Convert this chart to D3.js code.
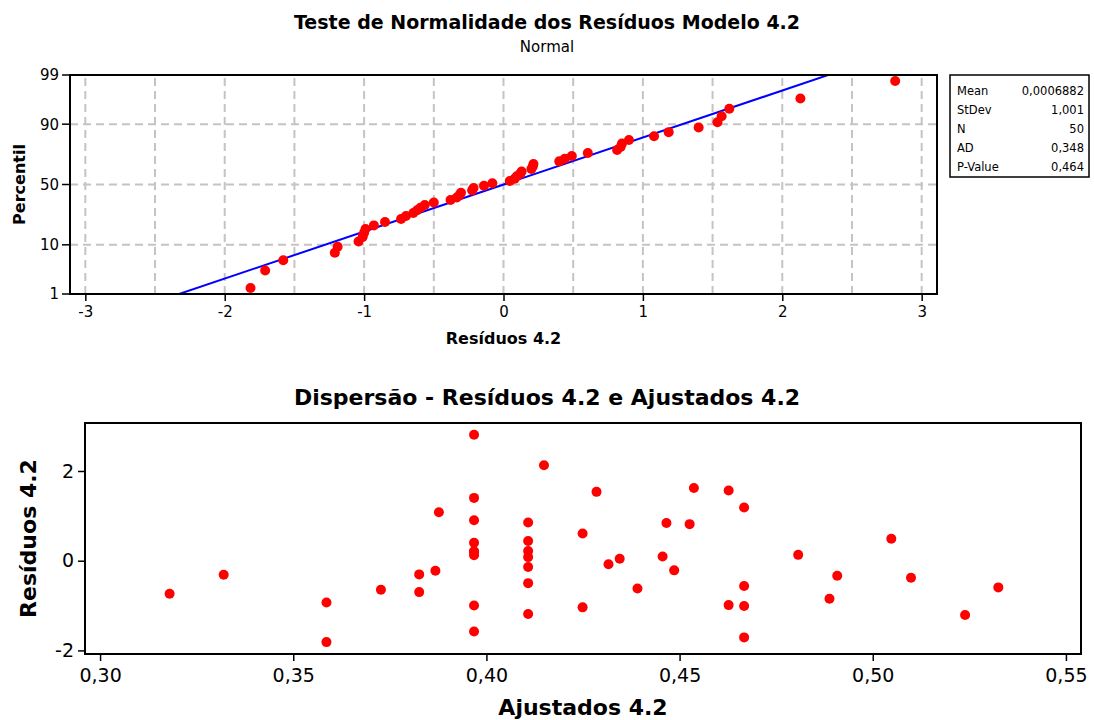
<!DOCTYPE html>
<html lang="pt">
<head>
<meta charset="UTF-8">
<script src="https://d3js.org/d3.v7.min.js"></script>
<style>
  body {margin: 0; background: #fff;}
  svg {display: block; font-family: "DejaVu Sans", sans-serif;}
  .grid line {stroke: #c4c4c4; stroke-width: 2; stroke-dasharray: 8,5;}
  .frame {fill: none; stroke: #000; stroke-width: 2;}
  .axis .tick line {stroke: #000; stroke-width: 1.5;}
  .axis path.domain {display: none;}
</style>
</head>
<body>
<svg id="chart" width="1094" height="720"></svg>
<script>
// valores ajustados e residuos (modelo 4.2)
const fitted = [0.318, 0.332, 0.3586, 0.3586, 0.3727, 0.3826, 0.3826, 0.3868, 0.3877,
  0.3968, 0.3968, 0.3968, 0.3968, 0.3968, 0.3968, 0.3968, 0.3968, 0.3968,
  0.4108, 0.4108, 0.4108, 0.4108, 0.4108, 0.4108, 0.4108, 0.4149,
  0.4285, 0.4249, 0.4249, 0.4316, 0.4345, 0.4391, 0.4456, 0.4466, 0.4486,
  0.4526, 0.4537, 0.4627, 0.4627, 0.4667, 0.4667, 0.4667, 0.4667,
  0.4807, 0.4888, 0.4908, 0.5048, 0.5099, 0.5239, 0.5325];
const residuals = [-0.735, -0.315, -0.93, -1.815, -0.647, -0.305, -0.70, -0.225, 1.08,
  2.81, 1.40, 0.90, 0.40, 0.21, 0.20, 0.12, -1.00, -1.58,
  0.85, 0.44, 0.215, 0.08, -0.14, -0.50, -1.19, 2.13,
  1.535, 0.605, -1.04, -0.08, 0.045, -0.62, 0.095, 0.84, -0.215,
  0.815, 1.62, 1.565, -0.99, 1.185, -0.565, -1.01, -1.71,
  0.13, -0.85, -0.335, 0.49, -0.38, -1.21, -0.595];

const fitMean = 0.0006882, fitSd = 1.001;
const statLabels = ["Mean", "StDev", "N", "AD", "P-Value"];
const statValues = ["0,0006882", "1,001", "50", "0,348", "0,464"];

const pctTicks = [1, 10, 50, 90, 99];
const pctGrid = [10, 50, 90];
const resTicks = [-3, -2, -1, 0, 1, 2, 3];
const resGrid = [-3, -2.5, -2, -1.5, -1, -0.5, 0, 0.5, 1, 1.5, 2, 2.5, 3];
const fitTicks = [0.30, 0.35, 0.40, 0.45, 0.50, 0.55];
const resTicks2 = [-2, 0, 2];

// inversa da normal padrao (Acklam)
function qnorm(p) {
  const a = [-39.69683028665376, 220.9460984245205, -275.9285104469687, 138.3577518672690, -30.66479806614716, 2.506628277459239];
  const b = [-54.47609879822406, 161.5858368580409, -155.6989798598866, 66.80131188771972, -13.28068155288572];
  const c = [-0.007784894002430293, -0.3223964580411365, -2.400758277161838, -2.549732539343734, 4.374664141464968, 2.938163982698783];
  const d = [0.007784695709041462, 0.3224671290700398, 2.445134137142996, 3.754408661907416];
  const pl = 0.02425;
  let q, r;
  if (p < pl) {
    q = Math.sqrt(-2 * Math.log(p));
    return (((((c[0]*q+c[1])*q+c[2])*q+c[3])*q+c[4])*q+c[5]) / ((((d[0]*q+d[1])*q+d[2])*q+d[3])*q+1);
  } else if (p <= 1 - pl) {
    q = p - 0.5; r = q * q;
    return (((((a[0]*r+a[1])*r+a[2])*r+a[3])*r+a[4])*r+a[5])*q / (((((b[0]*r+b[1])*r+b[2])*r+b[3])*r+b[4])*r+1);
  }
  q = Math.sqrt(-2 * Math.log(1 - p));
  return -(((((c[0]*q+c[1])*q+c[2])*q+c[3])*q+c[4])*q+c[5]) / ((((d[0]*q+d[1])*q+d[2])*q+d[3])*q+1);
}

const comma = f => v => d3.format(f)(v).replace(".", ",").replace("\u2212", "-");
const svg = d3.select("#chart");

// ---------- grafico de probabilidade normal ----------
const pp = {left: 70, right: 937, top: 75, bottom: 294};
const x1 = d3.scaleLinear().domain([-3.11, 3.11]).range([pp.left, pp.right]);
const z1 = d3.scaleLinear().domain([qnorm(0.01), qnorm(0.99)]).range([pp.bottom, pp.top]);
const y1 = pct => z1(qnorm(pct / 100));

svg.append("text").attr("x", 547).attr("y", 29).attr("text-anchor", "middle")
  .attr("font-size", 19).attr("font-weight", "bold")
  .text("Teste de Normalidade dos Resíduos Modelo 4.2");
svg.append("text").attr("x", 547).attr("y", 52).attr("text-anchor", "middle")
  .attr("font-size", 15).text("Normal");

const g1 = svg.append("g");
g1.append("g").attr("class", "grid").selectAll("line").data(resGrid).join("line")
  .attr("x1", d => x1(d)).attr("x2", d => x1(d))
  .attr("y1", pp.top + 3).attr("y2", pp.bottom);
g1.append("g").attr("class", "grid").selectAll("line").data(pctGrid).join("line")
  .attr("x1", pp.left).attr("x2", pp.right)
  .attr("y1", d => y1(d)).attr("y2", d => y1(d));

svg.append("clipPath").attr("id", "clipTop").append("rect")
  .attr("x", pp.left).attr("y", pp.top)
  .attr("width", pp.right - pp.left).attr("height", pp.bottom - pp.top);

const lineP = [0.005, 0.995];
g1.append("path").attr("clip-path", "url(#clipTop)")
  .attr("fill", "none").attr("stroke", "#0000ff").attr("stroke-width", 2)
  .attr("d", d3.line().x(p => x1(fitMean + fitSd * qnorm(p))).y(p => z1(qnorm(p)))(lineP));

const sorted = residuals.slice().sort(d3.ascending);
const n = sorted.length;
g1.append("g").selectAll("circle").data(sorted).join("circle")
  .attr("cx", d => x1(d))
  .attr("cy", (d, i) => z1(qnorm((i + 1 - 0.3) / (n + 0.4))))
  .attr("r", 5).attr("fill", "#ff0000");

g1.append("rect").attr("class", "frame").attr("x", pp.left).attr("y", pp.top)
  .attr("width", pp.right - pp.left).attr("height", pp.bottom - pp.top);

g1.append("g").attr("class", "axis").attr("transform", `translate(0,${pp.bottom})`)
  .call(d3.axisBottom(x1).tickValues(resTicks).tickSize(7).tickPadding(5).tickFormat(d => String(d)))
  .call(g => g.selectAll("text").attr("font-size", 15).attr("font-family", "DejaVu Sans").attr("fill", "#000"));

const yAxis1 = g1.append("g").attr("class", "axis").attr("transform", `translate(${pp.left},0)`);
yAxis1.selectAll("g").data(pctTicks).join("g")
  .attr("class", "tick")
  .attr("transform", d => `translate(0,${y1(d)})`)
  .call(g => g.append("line").attr("x1", -8).attr("x2", 0))
  .call(g => g.append("text").attr("x", -11).attr("dy", "0.36em")
    .attr("text-anchor", "end").attr("font-size", 15).text(d => d));

svg.append("text").attr("x", (pp.left + pp.right) / 2).attr("y", 344)
  .attr("text-anchor", "middle").attr("font-size", 16).attr("font-weight", "bold")
  .text("Resíduos 4.2");
svg.append("text").attr("transform", `translate(25,${(pp.top + pp.bottom) / 2}) rotate(-90)`)
  .attr("text-anchor", "middle").attr("font-size", 16).attr("font-weight", "bold")
  .text("Percentil");

// caixa de estatisticas
const box = svg.append("g");
box.append("rect").attr("x", 950).attr("y", 75).attr("width", 139).attr("height", 102)
  .attr("fill", "#fff").attr("stroke", "#000").attr("stroke-width", 1.5);
statLabels.forEach((s, i) => {
  box.append("text").attr("x", 957).attr("y", 90.5 + i * 19).attr("dy", "0.36em")
    .attr("font-size", 11.5).text(s);
  box.append("text").attr("x", 1084).attr("y", 90.5 + i * 19).attr("dy", "0.36em")
    .attr("text-anchor", "end").attr("font-size", 11.5).text(statValues[i]);
});

// ---------- dispersao ----------
const sc = {left: 85, right: 1081, top: 423, bottom: 654};
const x2 = d3.scaleLinear().domain([0.2961, 0.5539]).range([sc.left, sc.right]);
const y2 = d3.scaleLinear().domain([-2.08, 3.07]).range([sc.bottom, sc.top]);

svg.append("text").attr("x", 547).attr("y", 405).attr("text-anchor", "middle")
  .attr("font-size", 22).attr("font-weight", "bold")
  .text("Dispersão - Resíduos 4.2 e Ajustados 4.2");

const g2 = svg.append("g");
g2.append("g").selectAll("circle").data(fitted).join("circle")
  .attr("cx", d => x2(d)).attr("cy", (d, i) => y2(residuals[i]))
  .attr("r", 5).attr("fill", "#ff0000");

g2.append("rect").attr("class", "frame").attr("x", sc.left).attr("y", sc.top)
  .attr("width", sc.right - sc.left).attr("height", sc.bottom - sc.top);

g2.append("g").attr("class", "axis").attr("transform", `translate(0,${sc.bottom})`)
  .call(d3.axisBottom(x2).tickValues(fitTicks).tickSize(7).tickPadding(8).tickFormat(comma(".2f")))
  .call(g => g.selectAll("text").attr("font-size", 19).attr("font-family", "DejaVu Sans").attr("fill", "#000"));
g2.append("g").attr("class", "axis").attr("transform", `translate(${sc.left},0)`)
  .call(d3.axisLeft(y2).tickValues(resTicks2).tickSize(7).tickPadding(4).tickFormat(d => String(d)))
  .call(g => g.selectAll("text").attr("font-size", 19).attr("font-family", "DejaVu Sans").attr("fill", "#000"));

svg.append("text").attr("x", (sc.left + sc.right) / 2).attr("y", 715)
  .attr("text-anchor", "middle").attr("font-size", 22).attr("font-weight", "bold")
  .text("Ajustados 4.2");
svg.append("text").attr("transform", `translate(36,${(sc.top + sc.bottom) / 2}) rotate(-90)`)
  .attr("text-anchor", "middle").attr("font-size", 22).attr("font-weight", "bold")
  .text("Resíduos 4.2");
</script>
</body>
</html>
